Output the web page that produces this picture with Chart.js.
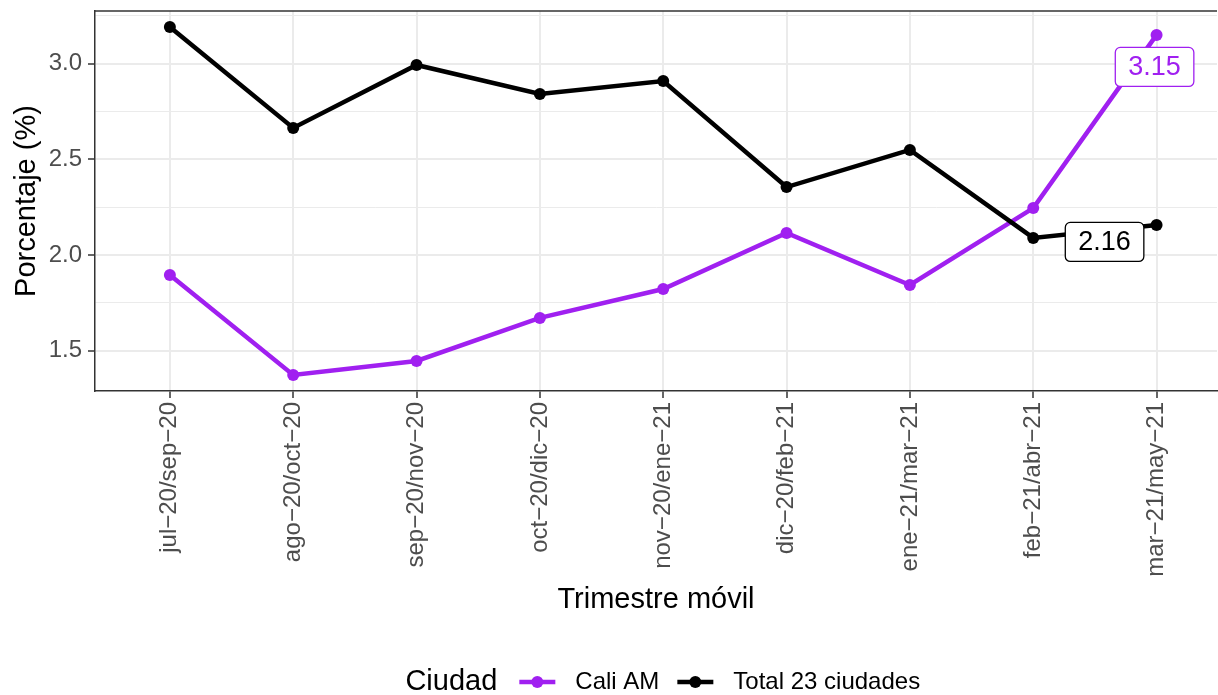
<!DOCTYPE html>
<html>
<head>
<meta charset="utf-8">
<script src="https://cdn.jsdelivr.net/npm/chart.js@4/dist/chart.umd.min.js"></script>
<style>
html,body{margin:0;padding:0;background:#fff;overflow:hidden}
</style>
</head>
<body>
<!-- el panel de ggplot sigue mas alla del borde derecho: lienzo un poco mas ancho -->
<canvas id="graficoTasa" width="1223" height="695"></canvas>
<script>
// datos
var trimestres = ['jul\u221220/sep\u221220','ago\u221220/oct\u221220','sep\u221220/nov\u221220','oct\u221220/dic\u221220',
  'nov\u221220/ene\u221221','dic\u221220/feb\u221221','ene\u221221/mar\u221221','feb\u221221/abr\u221221','mar\u221221/may\u221221'];
var caliAM = [1.895, 1.373, 1.446, 1.671, 1.822, 2.115, 1.843, 2.245, 3.15];
var total23 = [3.191, 2.664, 2.993, 2.841, 2.909, 2.355, 2.549, 2.089, 2.157];
var ticksY = [1.5, 1.75, 2.0, 2.25, 2.5, 2.75, 3.0, 3.25];
var nombres = ['Cali AM', 'Total 23 ciudades'];
var colores = ['#A020F0', '#000000'];

var fuente = '"Liberation Sans", Arial, sans-serif';
var oggettoGrafico;

function puntos(v){
  return v.map(function(y, i){ return {x: i, y: y}; });
}

// borde superior del panel y etiquetas finales
var extras = {
  id: 'extras',
  afterDatasetsDraw: function(chart){
    var ctx = chart.ctx, a = chart.chartArea;
    ctx.save();
    ctx.strokeStyle = '#333333';
    ctx.lineWidth = 1.5;
    ctx.beginPath();
    ctx.moveTo(a.left, a.top);
    ctx.lineTo(a.right, a.top);
    ctx.stroke();

    var series = [caliAM, total23];
    var desp = [[-2, 32], [-52, 17]];
    ctx.font = '27px ' + fuente;
    ctx.textAlign = 'center';
    ctx.textBaseline = 'middle';
    for (var s = 0; s < 2; s++) {
      var n = series[s].length - 1;
      var px = chart.scales.x.getPixelForValue(n) + desp[s][0];
      var py = chart.scales.y.getPixelForValue(series[s][n]) + desp[s][1];
      var txt = series[s][n].toFixed(2);
      var w = ctx.measureText(txt).width + 26, h = 39;
      ctx.beginPath();
      ctx.roundRect(px - w / 2, py - h / 2, w, h, 5);
      ctx.fillStyle = '#ffffff';
      ctx.fill();
      ctx.lineWidth = 1.3;
      ctx.strokeStyle = colores[s];
      ctx.stroke();
      ctx.fillStyle = colores[s];
      ctx.fillText(txt, px, py + 1);
    }
    ctx.restore();
  },
  afterDraw: function(chart){
    // leyenda abajo, estilo ggplot
    var ctx = chart.ctx;
    var y = 682;
    ctx.save();
    ctx.textBaseline = 'middle';
    ctx.textAlign = 'left';
    ctx.font = '29px ' + fuente;
    var wTit = ctx.measureText('Ciudad').width;
    ctx.font = '24px ' + fuente;
    var w1 = ctx.measureText(nombres[0]).width;
    var w2 = ctx.measureText(nombres[1]).width;
    var total = wTit + 22 + 36 + 20 + w1 + 18 + 36 + 20 + w2;
    var centro = (chart.chartArea.left + chart.scales.x.getPixelForValue(8.6)) / 2;
    var x = centro - total / 2;
    ctx.fillStyle = '#000';
    ctx.font = '29px ' + fuente;
    ctx.fillText('Ciudad', x, y);
    x += wTit + 22;
    var anchos = [w1, w2];
    ctx.font = '24px ' + fuente;
    for (var i = 0; i < 2; i++) {
      ctx.strokeStyle = colores[i];
      ctx.lineWidth = 4.5;
      ctx.beginPath();
      ctx.moveTo(x, y);
      ctx.lineTo(x + 36, y);
      ctx.stroke();
      ctx.fillStyle = colores[i];
      ctx.beginPath();
      ctx.arc(x + 18, y, 6, 0, Math.PI * 2);
      ctx.fill();
      x += 36 + 20;
      ctx.fillStyle = '#000';
      ctx.fillText(nombres[i], x, y);
      x += anchos[i] + 18;
    }
    ctx.restore();
  }
};

function init(){
  const data = {
    datasets: [{
      label: nombres[0],
      data: puntos(caliAM),
      borderColor: colores[0],
      backgroundColor: colores[0],
      order: 1
    }, {
      label: nombres[1],
      data: puntos(total23),
      borderColor: colores[1],
      backgroundColor: colores[1],
      order: 0
    }]
  };

  const config = {
    type: 'line',
    data: data,
    plugins: [extras],
    options: {
      responsive: false,
      animation: false,
      devicePixelRatio: 1,
      layout: {padding: {top: 11, right: 0, bottom: 60, left: 0}},
      elements: {
        line: {borderWidth: 4.5, tension: 0},
        point: {radius: 6, borderWidth: 0, hoverRadius: 6}
      },
      plugins: {legend: {display: false}, tooltip: {enabled: false}},
      scales: {
        x: {
          type: 'linear',
          min: -0.607,
          max: 8.49,
          afterBuildTicks: function(sc){
            sc.ticks = trimestres.map(function(t, i){ return {value: i}; });
          },
          afterFit: function(sc){
            sc.height = 244;
            sc.paddingLeft = 0;
            sc.paddingRight = 0;
          },
          ticks: {
            autoSkip: false,
            minRotation: 90,
            maxRotation: 90,
            padding: 4,
            color: '#4D4D4D',
            font: {family: fuente, size: 24},
            callback: function(v){ return trimestres[v]; }
          },
          grid: {
            color: '#EBEBEB',
            lineWidth: 2,
            tickColor: '#333333',
            tickWidth: 1.5,
            tickLength: 7
          },
          border: {color: '#333333', width: 1.5},
          title: {
            display: true,
            text: 'Trimestre m\u00f3vil',
            color: '#000',
            font: {family: fuente, size: 29},
            padding: {top: 0, bottom: 18}
          }
        },
        y: {
          type: 'linear',
          min: 1.289,
          max: 3.275,
          afterBuildTicks: function(sc){
            sc.ticks = ticksY.map(function(v){ return {value: v}; });
          },
          afterFit: function(sc){
            sc.width = 95;
            sc.paddingTop = 0;
            sc.paddingBottom = 0;
          },
          ticks: {
            padding: 6,
            color: '#4D4D4D',
            font: {family: fuente, size: 24},
            callback: function(v){ return (v * 2) % 1 === 0 ? v.toFixed(1) : ''; }
          },
          grid: {
            color: '#EBEBEB',
            lineWidth: function(c){ return (c.tick.value * 2) % 1 === 0 ? 2 : 1; },
            tickColor: function(c){ return (c.tick.value * 2) % 1 === 0 ? '#333333' : 'rgba(0,0,0,0)'; },
            tickWidth: 1.5,
            tickLength: 7
          },
          border: {color: '#333333', width: 1.5},
          title: {
            display: true,
            text: 'Porcentaje (%)',
            color: '#000',
            font: {family: fuente, size: 29},
            padding: {top: 10, bottom: 0}
          }
        }
      }
    }
  };

  oggettoGrafico = new Chart(document.getElementById('graficoTasa'), config);
}

init();
</script>
</body>
</html>
